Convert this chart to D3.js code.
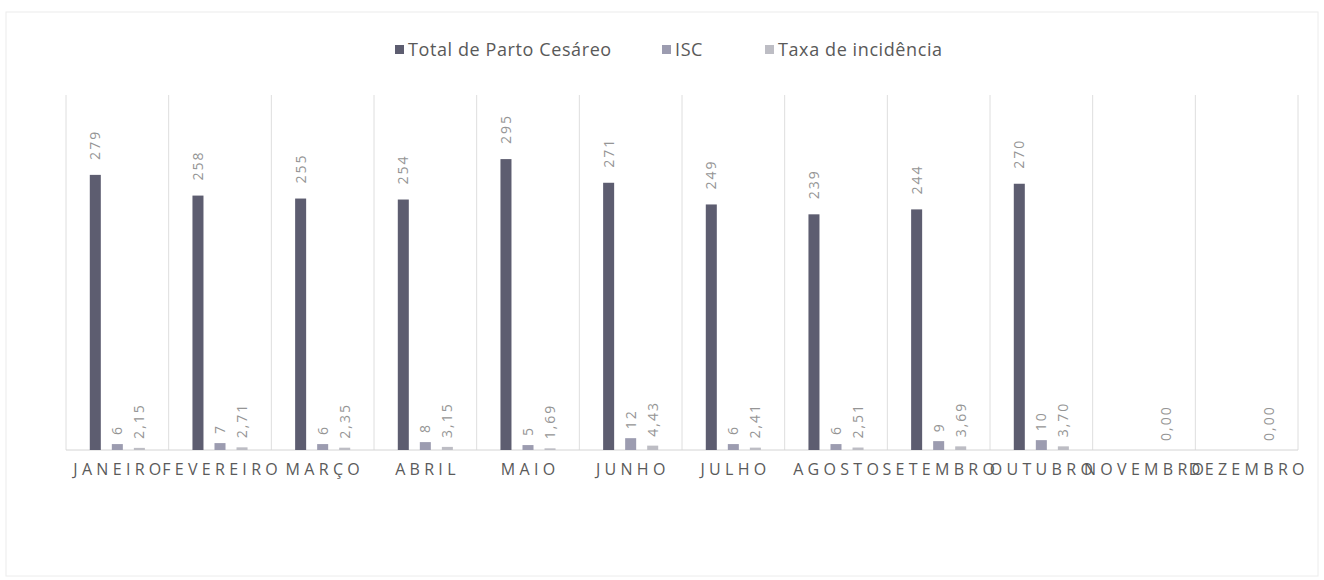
<!DOCTYPE html>
<html>
<head>
<meta charset="utf-8">
<script src="https://cdn.jsdelivr.net/npm/d3@7"></script>
<style>
  body { margin: 0; background: #fff; }
  svg { display: block; font-family: "Open Sans", sans-serif; }
</style>
</head>
<body>
<svg id="chart" width="1324" height="580"></svg>
<script>
const months = ["JANEIRO", "FEVEREIRO", "MARÇO", "ABRIL", "MAIO", "JUNHO",
  "JULHO", "AGOSTO", "SETEMBRO", "OUTUBRO", "NOVEMBRO", "DEZEMBRO"];
const seriesNames = ["Total de Parto Cesáreo", "ISC", "Taxa de incidência"];
const totalParto = [279, 258, 255, 254, 295, 271, 249, 239, 244, 270, null, null];
const isc = [6, 7, 6, 8, 5, 12, 6, 6, 9, 10, null, null];
const taxa = [2.15, 2.71, 2.35, 3.15, 1.69, 4.43, 2.41, 2.51, 3.69, 3.70, 0, 0];

const colors = ["#5d5d70", "#9c9cb0", "#bdbdc4"];
const formats = [d3.format("d"), d3.format("d"), v => d3.format(".2f")(v).replace(".", ",")];

const svg = d3.select("#chart");
const margin = { top: 95, right: 26, bottom: 130, left: 66 };
const width = 1324, height = 580;

// faint outer frame of the chart
svg.append("rect")
  .attr("x", 6).attr("y", 12)
  .attr("width", width - 12).attr("height", height - 16)
  .attr("fill", "none").attr("stroke", "#ececec");

const x = d3.scaleBand()
  .domain(months)
  .range([margin.left, width - margin.right]);

const xInner = d3.scaleBand()
  .domain(seriesNames)
  .range([0, x.bandwidth()])
  .paddingInner(0.5)
  .paddingOuter(1.08);

const y = d3.scaleLinear()
  .domain([0, 360])
  .range([height - margin.bottom, margin.top]);

const baseY = y(0);

// vertical grid lines at category borders
const edges = months.map(m => x(m)).concat([x(months[months.length - 1]) + x.bandwidth()]);
svg.append("g")
  .selectAll("line")
  .data(edges)
  .join("line")
  .attr("x1", d => d).attr("x2", d => d)
  .attr("y1", margin.top).attr("y2", baseY)
  .attr("stroke", "#dedede");

// baseline
svg.append("line")
  .attr("x1", margin.left).attr("x2", width - margin.right)
  .attr("y1", baseY).attr("y2", baseY)
  .attr("stroke", "#d4d4d4");

const seriesData = [totalParto, isc, taxa];

seriesData.forEach((vals, si) => {
  const name = seriesNames[si];
  const pts = vals.map((v, i) => ({ month: months[i], v })).filter(d => d.v !== null);

  svg.append("g")
    .selectAll("rect")
    .data(pts)
    .join("rect")
    .attr("x", d => x(d.month) + xInner(name))
    .attr("width", xInner.bandwidth())
    .attr("y", d => y(d.v))
    .attr("height", d => baseY - y(d.v))
    .attr("fill", colors[si]);

  svg.append("g")
    .selectAll("text")
    .data(pts)
    .join("text")
    .attr("transform", d => {
      const cx = x(d.month) + xInner(name) + xInner.bandwidth() / 2;
      const cy = y(d.v) - (si === 0 ? 15 : 9);
      return `translate(${cx},${cy}) rotate(-90)`;
    })
    .attr("dy", "0.35em")
    .attr("text-anchor", "start")
    .attr("font-size", 14)
    .attr("letter-spacing", 2)
    .attr("fill", "#959595")
    .text(d => formats[si](d.v));
});

// category labels (they crowd each other like in the original)
const ls = 4.3;
svg.append("g")
  .selectAll("text")
  .data(months)
  .join("text")
  .attr("x", d => x(d) + x.bandwidth() / 2 + ls / 2)
  .attr("y", 475)
  .attr("text-anchor", "middle")
  .attr("font-size", 16)
  .attr("letter-spacing", ls)
  .attr("fill", "#5a5a5a")
  .text(d => d);

// legend
const legendX = [395, 662, 765];
const legend = svg.append("g");
seriesNames.forEach((name, i) => {
  legend.append("rect")
    .attr("x", legendX[i]).attr("y", 45)
    .attr("width", 9).attr("height", 9)
    .attr("fill", colors[i]);
  legend.append("text")
    .attr("x", legendX[i] + 13).attr("y", 56)
    .attr("font-size", 18)
    .attr("letter-spacing", 0.6)
    .attr("fill", "#595959")
    .text(name);
});
</script>
</body>
</html>
